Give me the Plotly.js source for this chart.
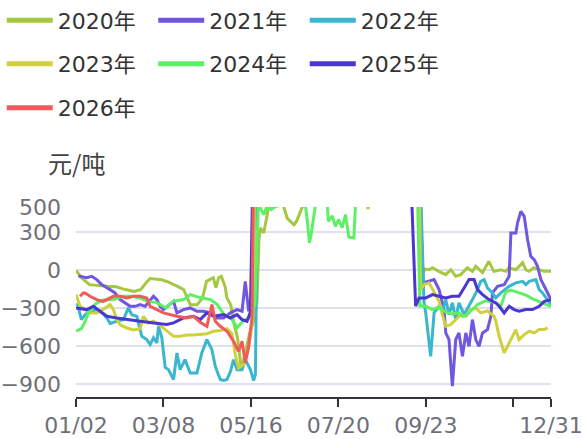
<!DOCTYPE html>
<html>
<head>
<meta charset="utf-8">
<script src="https://cdn.plot.ly/plotly-3.0.1.min.js"></script>
<style>html,body{margin:0;padding:0;background:#fff;}#chart{width:582px;height:439px;}</style>
</head>
<body>
<div id="chart"></div>
<script>
// category index (0 = 01/02 ... 353 = 12/31)
const tickPositions = [0, 65, 130, 195, 260, 325, 353];
const tickLabels = ['01/02', '03/08', '05/16', '07/20', '09/23', '', '12/31'];
const yTicks = [-900, -600, -300, 0, 300, 500];
const seriesNames = ['2020年', '2021年', '2022年', '2023年', '2024年', '2025年', '2026年'];
const seriesColors = ['#a5c840', '#7056e0', '#3ab6cf', '#cfd03c', '#5ef064', '#4a37d2', '#f25a5a'];

const x2020 = [0,4,10,16,23,30,36,43,48,52,55,60,63,68,73,77,80,83,85,90,94,97,102,104,106,108,111,112,115,117,120,123,126,129,132,134.5,136,137,139.5,141,143,147,154,157,162,164,168,170.5,180,215,217,219,240,254,257,259.5,262.4,264.9,269.6,274.8,278.5,282.2,285.9,290.9,294.6,297.1,302.1,306.8,310.5,315.7,319.4,321.7,326.9,331.9,334.3,336.6,340.3,344,347.7,353];
const y2020 = [0,-58,-113,-120,-126,-130,-150,-166,-152,-100,-65,-70,-73,-90,-113,-135,-152,-218,-271,-271,-218,-87,-58,-136,-58,-47,-136,-215,-271,-402,-531,-784,-650,-500,-400,-250,250,335,295,380,490,505,515,410,360,390,490,560,700,620,485,620,750,800,-30,10,5,21,-8,-34,5,-47,-34,21,-8,32,-18,71,-8,5,-8,21,5,61,5,-8,21,5,-8,-8,-8];

const x2021 = [1.7,3,8,11.7,15.4,19.1,25.3,29,32.8,36.5,40.2,44,47.7,51.4,55.1,57.6,60.1,62.5,65,70,72.5,75,79.9,84.9,89.9,94.8,99.8,104.8,109.7,114.7,119.7,123.4,125.8,128.3,130.8,133.5,255,258,262.4,266.1,269.8,273.5,274.8,277.2,279.7,282.2,284.6,287.2,289.7,292.1,294.6,297.1,299.5,302.1,305.8,308.3,309.5,313.3,318.2,321.9,323.2,326.9,328.1,330.6,333.1,335.6,338,340.5,343,345.5,348,350.5,353];
const y2021 = [-47,-47,-58,-47,-73,-113,-152,-178,-231,-257,-284,-284,-271,-284,-231,-205,-231,-284,-310,-271,-245,-336,-310,-297,-323,-323,-336,-376,-376,-336,-310,-323,-87,-323,-218,800,800,-100,-87,-73,-152,-310,-494,-547,-915,-547,-494,-679,-494,-600,-389,-547,-600,-494,-468,-363,-178,-126,-113,-47,295,295,374,466,426,242,110,84,32,-73,-126,-178,-231];

const x2022 = [1,2.5,4,6.7,10,15.4,20,22.9,25.3,30.3,35.2,38.9,41.5,45.2,48.9,52.6,55.1,57.6,60.1,61.3,63.8,66.3,68.7,72.5,75,77.4,81,84.9,89.9,93.5,97.3,101,103.5,107.2,109.7,112.2,114.7,117.1,119.7,123.4,125.8,129.6,132,133.3,135,256,258.6,259.9,263.6,266.1,269.8,272.3,274.8,277.2,279.7,282.2,284.6,288.4,292.1,294.6,298.4,300.8,303.3,305.8,309.5,312,315.7,321.9,326.9,331.9,334.3,336.8,341.7,344.2,346.7,349.2,351.7,353];
const y2022 = [-260,-330,-389,-350,-330,-310,-340,-376,-420,-402,-390,-297,-350,-363,-521,-547,-586,-533,-573,-442,-533,-766,-784,-862,-652,-784,-705,-810,-810,-652,-547,-626,-757,-862,-870,-862,-800,-705,-784,-784,-705,-784,-870,-823,700,700,-250,-336,-679,-336,-284,-320,-231,-350,-257,-389,-257,-350,-284,-231,-152,-87,-73,-139,-178,-218,-178,-126,-99,-87,-113,-87,-73,-152,-178,-218,-257,-270];

const x2023 = [0,3,7,10.4,15.4,20.3,25.3,27.8,30.3,32.8,37.8,42.7,47.7,50.1,53.8,57.6,62.5,67.5,72.5,77.4,82.4,87.3,92.3,97.3,102.2,107.2,112.2,115.9,118.4,120.8,124.6,127.1,129.6,131.5,133,255,256.1,258.6,262.4,266.1,269.8,272.3,274.8,278.5,282.2,285.9,289.7,293.4,297.1,300.8,305.8,310.7,312,314.5,318.2,320.7,324.4,326.9,329.3,333.1,336.8,340.5,344.2,348,350.5];
const y2023 = [-190,-284,-310,-336,-336,-308,-271,-310,-389,-430,-455,-470,-460,-363,-415,-402,-435,-475,-521,-520,-510,-510,-507,-500,-481,-475,-460,-500,-665,-770,-744,-665,-520,-350,800,800,-152,-113,-99,-178,-245,-350,-442,-428,-389,-350,-363,-310,-297,-336,-320,-363,-402,-521,-652,-600,-521,-468,-547,-507,-481,-494,-468,-468,-454];

const x2024 = [0,4,7,9,12,15,20,28,35,42,48,53,60,67,72,80,85,92,100,105,110,115,120,124,129,133,135.5,137,139.5,142,145,147,152,158,165,170,172,173.5,175,178,183,186.7,187.6,190.4,192.8,195.1,197.8,200.3,202.8,206.5,207.7,210,240,253.5,255.5,259.9,264.9,269.6,274.8,279.7,284.4,287.2,289.7,293.4,298.4,304.5,308.3,312,315.7,319.4,323.2,329.1,334.3,339.3,344,351.5,353];
const y2024 = [-481,-460,-400,-340,-300,-260,-235,-231,-205,-205,-220,-245,-255,-297,-245,-231,-192,-215,-231,-271,-350,-373,-452,-402,-373,-271,505,490,440,505,480,495,520,540,600,560,380,216,300,520,560,518,387,430,347,400,337,439,262,256,520,650,700,750,-280,-284,-310,-290,-330,-345,-334,-363,-360,-323,-270,-240,-245,-255,-284,-170,-155,-176,-195,-225,-245,-280,-285];

const x2025 = [0,8,12.9,17.9,22.9,30.3,37.8,47.7,57.6,67.5,72.5,79.9,87.3,92.3,97.3,102.2,109.7,114.7,119.7,123.4,127.1,129.6,131.5,248.7,252.4,254.9,259.9,264.9,269.8,274.8,279.7,284.6,288.4,292.1,295.8,298.4,302.1,307,312,314.5,318.2,321.9,325.6,329.3,334.3,339.3,344.2,348,353];
const y2025 = [-297,-310,-284,-323,-363,-376,-389,-402,-415,-428,-415,-376,-363,-389,-336,-363,-350,-376,-350,-389,-402,-330,800,800,-284,-218,-218,-192,-205,-218,-205,-205,-139,-73,-73,-152,-192,-231,-257,-284,-336,-284,-310,-323,-310,-310,-284,-245,-231];

const x2026 = [3,5.4,6.7,10.4,15.4,20.3,27.8,32.8,37.8,42.7,47.7,52.6,55.1,60.1,65,70,75,82.4,87.3,92.3,97.3,101,103.5,107.2,112.2,117.1,120.8,123.4,125.8,128.3,130.8,132];
const y2026 = [-205,-178,-178,-205,-231,-245,-205,-205,-218,-205,-205,-218,-284,-310,-336,-350,-363,-376,-363,-410,-442,-271,-402,-442,-481,-560,-640,-560,-731,-600,-370,800];

const xs = [x2020, x2021, x2022, x2023, x2024, x2025, x2026];
const ys = [y2020, y2021, y2022, y2023, y2024, y2025, y2026];
const legendOf = ['legend', 'legend', 'legend', 'legend2', 'legend2', 'legend2', 'legend3'];

const traces = [];
for (let k = 0; k < seriesNames.length; k++) {
  traces.push({
    type: 'scatter', mode: 'lines', name: seriesNames[k],
    x: xs[k], y: ys[k], showlegend: false, legendgroup: seriesNames[k],
    line: {color: seriesColors[k], width: 3}, hoverinfo: 'skip'
  });
}
for (let k = 0; k < seriesNames.length; k++) {
  traces.push({
    type: 'scatter', mode: 'lines', name: seriesNames[k],
    x: [null], y: [null], showlegend: true, legendgroup: seriesNames[k], legend: legendOf[k],
    line: {color: seriesColors[k], width: 5}
  });
}

const legFont = {family: 'DejaVu Sans, Noto Sans CJK SC, sans-serif', size: 22, color: '#333'};
function leg(yPix) {
  return {orientation: 'h', xref: 'container', yref: 'container', x: 0.003, xanchor: 'left',
    y: 1 - yPix / 439, yanchor: 'middle', font: legFont, itemwidth: 46,
    entrywidth: 90.5, entrywidthmode: 'pixels', bgcolor: 'rgba(0,0,0,0)', borderwidth: 0,
    traceorder: 'normal', itemclick: false, itemdoubleclick: false};
}

const tickFont = {family: 'DejaVu Sans, sans-serif', size: 22, color: '#6e7079'};
const layout = {
  width: 582, height: 439,
  margin: {l: 76, r: 31, t: 207, b: 42, pad: 0},
  paper_bgcolor: '#fff', plot_bgcolor: '#fff',
  font: {family: 'DejaVu Sans, Noto Sans CJK SC, sans-serif', color: '#6e7079'},
  legend: leg(20.5), legend2: leg(64), legend3: leg(108),
  xaxis: {
    range: [0, 353], tickmode: 'array', tickvals: tickPositions, ticktext: tickLabels,
    showgrid: false, zeroline: false, showline: true, linecolor: '#333', linewidth: 1.5,
    ticks: 'outside', ticklen: 8, tickwidth: 1.5, tickcolor: '#333',
    tickfont: tickFont, ticklabeloverflow: 'allow', fixedrange: true
  },
  yaxis: {
    range: [-1000, 500], tickmode: 'array', tickvals: yTicks,
    showgrid: true, gridcolor: '#dde1ed', gridwidth: 1.5, zeroline: false, showline: false,
    ticks: '', ticklabelstandoff: 14, tickfont: tickFont, fixedrange: true
  },
  annotations: [{
    text: '元/吨', xref: 'paper', yref: 'paper', x: 0, y: (397 - 162) / 190,
    xanchor: 'center', yanchor: 'middle', showarrow: false,
    font: {family: 'Noto Sans CJK SC, sans-serif', size: 24, color: '#444'}
  }],
  showlegend: true
};

Plotly.newPlot('chart', traces, layout, {displayModeBar: false});
</script>
</body>
</html>
